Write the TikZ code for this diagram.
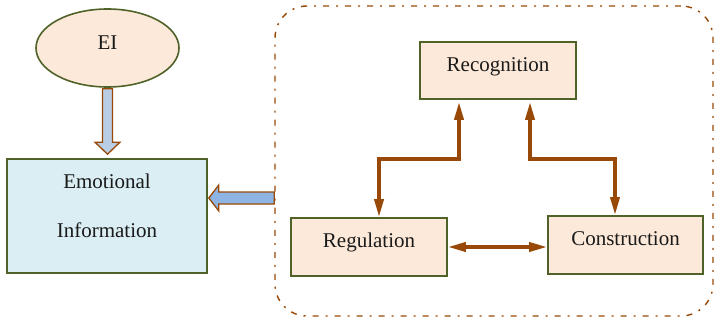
\documentclass[tikz,border=0pt]{standalone}
\usepackage{fontspec}
\setmainfont{Liberation Serif}
\usetikzlibrary{shapes.geometric,arrows.meta,calc}

\definecolor{peach}{HTML}{FDE9D9}
\definecolor{olive}{HTML}{4F6228}
\definecolor{rust}{HTML}{984807}
\definecolor{paleaqua}{HTML}{DAEEF3}
\definecolor{skyA}{HTML}{B9CDE5}
\definecolor{skyB}{HTML}{8EB4E3}
\definecolor{ink}{HTML}{1A1A1A}

\begin{document}
\begin{tikzpicture}[x=1pt,y=-1pt,
  every node/.style={font=\fontsize{21}{24}\selectfont, text=ink},
  stagebox/.style={draw=olive, line width=1.6pt, fill=peach, inner sep=4pt,
    text height=25pt, text depth=25pt, minimum width=156pt},
  infobox/.style={draw=olive, line width=1.6pt, fill=paleaqua, inner sep=4pt,
    minimum width=200pt, text height=25pt, text depth=81pt},
  sourceoval/.style={ellipse, draw=olive, line width=1.6pt, fill=peach, inner sep=0pt,
    minimum width=143pt, minimum height=78pt, text height=14pt, text depth=12pt},
  groupframe/.style={draw=rust, line width=1.4pt,
    dash pattern=on 6pt off 7pt on 2pt off 7pt, rounded corners=32pt,
    minimum width=438pt, minimum height=310pt, inner sep=0pt},
  conn/.style={draw=rust, line width=3.5pt,
    {Triangle[length=18pt,width=9pt]}-{Triangle[length=18pt,width=9pt]}},
  blockarrow/.style={draw=rust, line width=1.3pt, line join=miter}
]
\useasboundingbox (0,0) rectangle (714,321);

% dash-dot group around the three stages
\node[groupframe] (frame) at (494,161) {};

% source and target on the left
\node[sourceoval] (ei) at (107.5,48) {EI};
\node[infobox] (info) at (107,216)
  {\begin{tabular}[t]{@{}c@{}}Emotional\\[25pt]Information\end{tabular}};

% the three stages
\node[stagebox, text depth=24pt] (rec) at (498,70.5) {Recognition};
\node[stagebox] (reg) at (369,247) {Regulation};
\node[stagebox, minimum width=155pt] (con) at (625.5,245) {Construction};

% hollow block arrow: EI -> Emotional Information
\draw[blockarrow, fill=skyA] let \p1=(ei.south), \p2=(info.north) in
  (\x1-5pt,\y1-1pt) -- (\x1-5pt,\y2+16pt) -- (\x1-12.5pt,\y2+16pt)
  -- (\x1,\y2+4pt) -- (\x1+12.5pt,\y2+16pt) -- (\x1+5pt,\y2+16pt)
  -- (\x1+5pt,\y1-1pt) -- cycle;

% hollow block arrow: stage group -> Emotional Information
\draw[blockarrow, fill=skyB] let \p1=(info.east), \p2=(frame.west) in
  (\x2,\y1+24pt) -- (\x1+11pt,\y1+24pt) -- (\x1+11pt,\y1+31pt)
  -- (\x1+1pt,\y1+18pt) -- (\x1+11pt,\y1+5pt) -- (\x1+11pt,\y1+12pt)
  -- (\x2,\y1+12pt) -- cycle;

% two-way links between the stages
\draw[conn] ($(rec.south)+(-39,2)$) -- ++(0,57) -| ($(reg.north)+(10,0)$);
\draw[conn] ($(rec.south)+(32,2)$) -- ++(0,57) -| ($(con.north)+(-10.5,0)$);
\draw[conn] (reg.east) -- (reg.east -| con.west);
\end{tikzpicture}
\end{document}
